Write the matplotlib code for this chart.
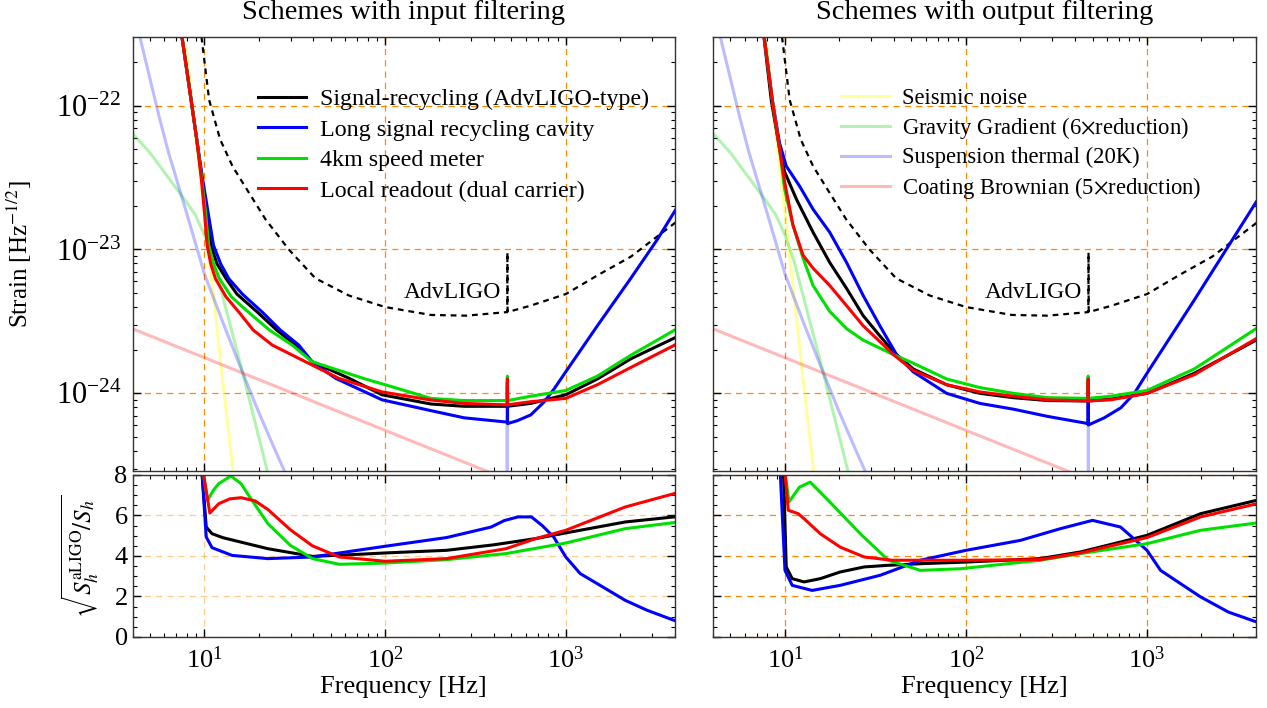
import numpy as np
import matplotlib
matplotlib.use("Agg")
import matplotlib.pyplot as plt
from matplotlib.ticker import LogLocator, MultipleLocator, FixedLocator

matplotlib.rcParams.update({
    'font.family': ['Liberation Serif', 'DejaVu Serif'],
    'mathtext.fontset': 'stix',
    'axes.linewidth': 1.0,
})

# ---- noise budget curves (log10 f, log10 strain), same in both panels
seis_logf = [0.90, 0.95, 1.00, 1.05, 1.10, 1.15, 1.18]
seis_logh = [-21.60, -22.20, -22.75, -23.32, -23.90, -24.45, -24.80]

gg_logf = [0.60, 0.70, 0.80, 0.90, 0.95, 1.00, 1.05, 1.10, 1.15, 1.20, 1.25, 1.30, 1.35, 1.40]
gg_logh = [-22.19, -22.33, -22.50, -22.67, -22.76, -22.90, -23.08, -23.32, -23.56, -23.80, -24.05, -24.30, -24.55, -24.80]

susp_logf = [0.60, 0.65, 0.70, 0.75, 0.80, 0.90, 1.00, 1.10, 1.20, 1.30, 1.40, 1.50, 2.00, 2.675, 2.676, 2.677, 3.00]
susp_logh = [-21.30, -21.56, -21.82, -22.08, -22.32, -22.74, -23.17, -23.50, -23.82, -24.13, -24.42, -24.70, -25.60, -26.50, -24.20, -26.50, -27.00]

coat_logf = [0.60, 2.60]
coat_logh = [-23.55, -24.56]

aligo_logf = [0.96, 0.984, 1.026, 1.087, 1.155, 1.209, 1.338, 1.467, 1.614, 1.80, 2.00, 2.253, 2.45,
              2.676, 2.677, 2.678, 2.806, 3.00, 3.175, 3.36, 3.61]
aligo_logh = [-21.30, -21.525, -21.96, -22.235, -22.42, -22.53, -22.79, -23.00, -23.20, -23.32, -23.40, -23.455, -23.46,
              -23.435, -23.02, -23.435, -23.39, -23.31, -23.18, -23.05, -22.81]

# ---- input filtering schemes (left)
sr_in_logf = [0.86, 0.876, 0.92, 0.958, 0.987, 1.013, 1.035, 1.07, 1.120, 1.18, 1.292, 1.40, 1.504, 1.596, 1.80, 1.983, 2.253, 2.437,
              2.676, 2.677, 2.678, 2.806, 3.00, 3.175, 3.36, 3.61]
sr_in_logh = [-21.40, -21.525, -21.90, -22.24, -22.51, -22.74, -22.97, -23.10, -23.203, -23.31, -23.434, -23.56, -23.664, -23.78, -23.895, -24.01, -24.074, -24.09,
              -24.09, -23.92, -24.09, -24.07, -24.01, -23.90, -23.76, -23.61]

lsrc_in_logf = [0.86, 0.876, 0.958, 0.99, 1.02, 1.05, 1.09, 1.135, 1.21, 1.319, 1.42, 1.522, 1.596, 1.725, 1.983, 2.253, 2.437,
                2.676, 2.677, 2.678, 2.732, 2.806, 2.88, 2.935, 3.00, 3.175, 3.36, 3.507, 3.61]
lsrc_in_logh = [-21.40, -21.525, -22.24, -22.51, -22.74, -22.97, -23.10, -23.203, -23.31, -23.434, -23.56, -23.664, -23.78, -23.895, -24.045, -24.12, -24.17,
                -24.20, -23.95, -24.21, -24.19, -24.15, -24.06, -23.97, -23.85, -23.53, -23.20, -22.93, -22.72]

sm_in_logf = [0.86, 0.876, 0.958, 0.985, 1.006, 1.024, 1.05, 1.083, 1.15, 1.242, 1.36, 1.485, 1.596, 1.89, 2.00, 2.253, 2.437,
              2.676, 2.677, 2.678, 2.806, 3.00, 3.175, 3.36, 3.61]
sm_in_logh = [-21.40, -21.525, -22.24, -22.51, -22.74, -22.97, -23.10, -23.203, -23.33, -23.434, -23.56, -23.664, -23.78, -23.90, -23.94, -24.035, -24.05,
              -24.05, -23.88, -24.05, -24.02, -23.98, -23.88, -23.735, -23.555]

lr_in_logf = [0.86, 0.876, 0.958, 0.983, 1.00, 1.015, 1.035, 1.061, 1.12, 1.190, 1.27, 1.375, 1.559, 1.743, 1.983, 2.253, 2.437,
              2.676, 2.677, 2.678, 2.806, 3.00, 3.175, 3.36, 3.61]
lr_in_logh = [-21.40, -21.525, -22.24, -22.51, -22.74, -22.97, -23.10, -23.203, -23.33, -23.434, -23.56, -23.664, -23.78, -23.895, -23.99, -24.046, -24.07,
              -24.08, -23.90, -24.08, -24.058, -24.035, -23.94, -23.82, -23.66]

# ---- output filtering schemes (right)
sr_out_logf = [0.87, 0.884, 0.924, 0.970, 0.998, 1.063, 1.155, 1.247, 1.340, 1.432, 1.524, 1.598, 1.708, 1.893, 2.077, 2.262, 2.45,
               2.674, 2.675, 2.676, 2.80, 3.00, 3.262, 3.603]
sr_out_logh = [-21.40, -21.525, -21.96, -22.30, -22.46, -22.65, -22.88, -23.09, -23.27, -23.46, -23.60, -23.71, -23.83, -23.94, -24.00, -24.03, -24.05,
               -24.053, -23.92, -24.053, -24.04, -24.00, -23.86, -23.63]

lsrc_out_logf = [0.87, 0.886, 0.93, 0.970, 1.007, 1.081, 1.155, 1.247, 1.340, 1.432, 1.524, 1.616, 1.708, 1.893, 2.077, 2.262, 2.45,
                 2.674, 2.675, 2.676, 2.764, 2.856, 2.93, 3.00, 3.262, 3.603]
lsrc_out_logh = [-21.40, -21.525, -21.96, -22.26, -22.42, -22.56, -22.72, -22.88, -23.09, -23.32, -23.53, -23.73, -23.85, -24.00, -24.07, -24.11, -24.16,
                 -24.21, -23.95, -24.22, -24.17, -24.10, -24.00, -23.86, -23.35, -22.67]

sm_out_logf = [0.87, 0.886, 0.93, 0.970, 0.998, 1.044, 1.100, 1.155, 1.247, 1.340, 1.432, 1.598, 1.708, 1.893, 2.077, 2.262, 2.45,
               2.674, 2.675, 2.676, 2.80, 3.00, 3.262, 3.603]
sm_out_logh = [-21.40, -21.525, -21.96, -22.30, -22.58, -22.83, -23.06, -23.25, -23.43, -23.55, -23.63, -23.73, -23.79, -23.90, -23.96, -24.00, -24.03,
               -24.035, -23.88, -24.035, -24.02, -23.98, -23.83, -23.55]

lr_out_logf = [0.87, 0.885, 0.93, 0.970, 0.998, 1.044, 1.100, 1.155, 1.247, 1.340, 1.432, 1.524, 1.598, 1.708, 1.893, 2.077, 2.262, 2.45,
               2.674, 2.675, 2.676, 2.80, 3.00, 3.262, 3.603]
lr_out_logh = [-21.40, -21.525, -21.96, -22.30, -22.53, -22.83, -23.04, -23.13, -23.25, -23.39, -23.53, -23.64, -23.73, -23.84, -23.94, -23.99, -24.02, -24.045,
               -24.053, -23.90, -24.053, -24.045, -24.00, -23.87, -23.62]

# ---- sensitivity improvement sqrt(S_aLIGO/S_h)
r_sr_in_logf = [0.985, 1.01, 1.042, 1.104, 1.351, 1.598, 1.846, 2.0, 2.34, 2.60, 2.834, 3.0, 3.329, 3.60]
r_sr_in = [8.3, 5.43, 5.10, 4.90, 4.36, 3.98, 4.08, 4.15, 4.28, 4.55, 4.86, 5.14, 5.68, 5.93]

r_lsrc_in_logf = [0.985, 1.01, 1.042, 1.153, 1.351, 1.598, 1.846, 2.0, 2.34, 2.587, 2.66, 2.735, 2.81, 2.87, 2.933, 3.0, 3.08, 3.205, 3.329, 3.45, 3.60]
r_lsrc_in = [8.3, 4.94, 4.41, 4.03, 3.87, 3.95, 4.28, 4.48, 4.91, 5.43, 5.75, 5.93, 5.93, 5.50, 4.94, 3.95, 3.13, 2.47, 1.81, 1.32, 0.82]

r_sm_in_logf = [0.99, 1.017, 1.05, 1.079, 1.146, 1.203, 1.252, 1.351, 1.475, 1.598, 1.747, 2.0, 2.34, 2.669, 3.0, 3.329, 3.60]
r_sm_in = [8.3, 6.75, 7.25, 7.57, 7.95, 7.57, 6.90, 5.60, 4.53, 3.87, 3.59, 3.65, 3.82, 4.12, 4.64, 5.35, 5.65]

r_lr_in_logf = [0.99, 1.03, 1.079, 1.14, 1.203, 1.28, 1.351, 1.475, 1.598, 1.747, 2.0, 2.34, 2.669, 2.834, 3.0, 3.329, 3.60]
r_lr_in = [8.3, 6.12, 6.58, 6.82, 6.88, 6.72, 6.30, 5.30, 4.50, 3.95, 3.74, 3.87, 4.36, 4.86, 5.27, 6.42, 7.08]

r_sr_out_logf = [0.991, 1.007, 1.04, 1.106, 1.195, 1.305, 1.438, 1.571, 1.748, 2.0, 2.41, 2.633, 2.854, 3.0, 3.296, 3.606]
r_sr_out = [8.3, 3.46, 2.88, 2.72, 2.88, 3.21, 3.46, 3.54, 3.62, 3.70, 3.87, 4.20, 4.69, 5.02, 6.09, 6.75]

r_lsrc_out_logf = [0.973, 1.0, 1.04, 1.15, 1.305, 1.527, 1.748, 2.0, 2.30, 2.522, 2.699, 2.854, 3.0, 3.075, 3.186, 3.296, 3.45, 3.606]
r_lsrc_out = [8.3, 3.29, 2.55, 2.30, 2.55, 3.05, 3.79, 4.28, 4.77, 5.35, 5.76, 5.43, 4.28, 3.29, 2.63, 1.98, 1.23, 0.74]

r_sm_out_logf = [0.998, 1.022, 1.08, 1.139, 1.239, 1.416, 1.571, 1.748, 1.969, 2.41, 2.633, 3.0, 3.296, 3.606]
r_sm_out = [8.3, 6.67, 7.40, 7.65, 6.75, 5.10, 3.79, 3.29, 3.37, 3.79, 4.12, 4.61, 5.27, 5.63]

r_lr_out_logf = [0.998, 1.018, 1.073, 1.106, 1.195, 1.305, 1.438, 1.593, 2.0, 2.41, 2.633, 3.0, 3.296, 3.606]
r_lr_out = [8.3, 6.26, 6.09, 5.84, 5.10, 4.44, 3.95, 3.79, 3.79, 3.82, 4.15, 4.91, 5.93, 6.58]

scheme_labels_in = ["Signal-recycling (AdvLIGO-type)", "Long signal recycling cavity",
                    "4km speed meter", "Local readout (dual carrier)"]
noise_labels = ["Seismic noise", r"Gravity Gradient (6$\times$reduction)",
                "Suspension thermal (20K)", r"Coating Brownian (5$\times$reduction)"]

GREEN = '#00e000'
scheme_colors = ['black', 'blue', GREEN, 'red']
noise_colors = [(1, 1, 0, 0.38), (0, 0.85, 0, 0.3), (0.25, 0.25, 1, 0.35), (1, 0.1, 0.1, 0.3)]
ORANGE = '#ff8c00'


def p(lf, lh):
    return 10**np.asarray(lf), 10**np.asarray(lh)


def style(ax, top, grid_alpha=1.0):
    ax.set_xscale('log')
    ax.set_xlim(4, 4000)
    ax.xaxis.set_major_locator(FixedLocator([10, 100, 1000]))
    ax.xaxis.set_minor_locator(LogLocator(base=10, subs=np.arange(2, 10), numticks=20))
    ax.tick_params(which='both', direction='in', top=True, right=True, labelsize=19)
    ax.tick_params(which='major', length=6, width=1)
    ax.tick_params(which='minor', length=3, width=0.8)
    ax.grid(True, which='major', color=ORANGE, ls=(0, (5, 4)), lw=0.9, alpha=grid_alpha)
    if top:
        ax.set_yscale('log')
        ax.set_ylim(10**-24.54, 10**-21.525)
        ax.yaxis.set_major_locator(FixedLocator([1e-24, 1e-23, 1e-22]))
        ax.yaxis.set_minor_locator(LogLocator(base=10, subs=np.arange(2, 10), numticks=20))
        ax.tick_params(axis='x', labelbottom=False)
        ax.tick_params(axis='y', labelsize=22, pad=8)
    else:
        ax.set_ylim(0, 8)
        ax.set_yticks([0, 2, 4, 6, 8])
        ax.yaxis.set_minor_locator(MultipleLocator(0.5))
        ax.tick_params(axis='x', pad=7)
        ax.set_xlabel("Frequency [Hz]", fontsize=19, labelpad=2)
    for s in ax.spines.values():
        s.set_color('#333333')


fig = plt.figure(figsize=(12.67, 7.08), dpi=100)
ax_tl = fig.add_axes([0.1046, 0.3347, 0.4278, 0.6126])
ax_bl = fig.add_axes([0.1046, 0.1003, 0.4278, 0.2288])
ax_tr = fig.add_axes([0.5627, 0.3347, 0.4286, 0.6126])
ax_br = fig.add_axes([0.5627, 0.1003, 0.4286, 0.2288])

noise_sets = [(seis_logf, seis_logh), (gg_logf, gg_logh), (susp_logf, susp_logh), (coat_logf, coat_logh)]
top_sets = {
    ax_tl: [(sr_in_logf, sr_in_logh), (lsrc_in_logf, lsrc_in_logh), (sm_in_logf, sm_in_logh), (lr_in_logf, lr_in_logh)],
    ax_tr: [(sr_out_logf, sr_out_logh), (lsrc_out_logf, lsrc_out_logh), (sm_out_logf, sm_out_logh), (lr_out_logf, lr_out_logh)],
}
bottom_sets = {
    ax_bl: [(r_sr_in_logf, r_sr_in), (r_lsrc_in_logf, r_lsrc_in), (r_sm_in_logf, r_sm_in), (r_lr_in_logf, r_lr_in)],
    ax_br: [(r_sr_out_logf, r_sr_out), (r_lsrc_out_logf, r_lsrc_out), (r_sm_out_logf, r_sm_out), (r_lr_out_logf, r_lr_out)],
}

for ax in (ax_tl, ax_tr):
    style(ax, True)
    noise_lines = []
    for (lf, lh), c in zip(noise_sets, noise_colors):
        x, y = p(lf, lh)
        ln, = ax.plot(x, y, color=c, lw=2.2)
        noise_lines.append(ln)
    x, y = p(aligo_logf, aligo_logh)
    ax.plot(x, y, color='black', lw=1.6, ls=(0, (2.6, 2.2)))
    ax.text(440, 10**-23.30, "AdvLIGO", ha='right', va='center', fontsize=17)
    scheme_lines = []
    for (lf, lh), c in zip(top_sets[ax], scheme_colors):
        x, y = p(lf, lh)
        ln, = ax.plot(x, y, color=c, lw=2.2)
        scheme_lines.append(ln)
    if ax is ax_tl:
        ax.legend(scheme_lines, scheme_labels_in, loc='upper left', bbox_to_anchor=(0.232, 0.882),
                  frameon=False, fontsize=17.3, handlelength=2.0, handletextpad=0.55,
                  labelspacing=0.36, borderpad=0, borderaxespad=0)
    else:
        ax.legend(noise_lines, noise_labels, loc='upper left', bbox_to_anchor=(0.235, 0.884),
                  frameon=False, fontsize=16.3, handlelength=2.2, handletextpad=0.5,
                  labelspacing=0.28, borderpad=0, borderaxespad=0)

for ax, ga in ((ax_bl, 0.45), (ax_br, 1.0)):
    style(ax, False, grid_alpha=ga)
    for (lf, r), c in zip(bottom_sets[ax], scheme_colors):
        ax.plot(10**np.asarray(lf), r, color=c, lw=2.2)

ax_tr.tick_params(axis='y', labelleft=False)
ax_br.tick_params(axis='y', labelleft=False)

ax_tl.set_title("Schemes with input filtering", fontsize=20.5, pad=13)
ax_tr.set_title("Schemes with output filtering", fontsize=20.5, pad=13)
ax_tl.set_ylabel(r"Strain [Hz$^{-1/2}$]", fontsize=18)
ax_tl.yaxis.set_label_coords(-0.182, 0.5)
ax_bl.set_ylabel(r"$\sqrt{S_h^{\rm aLIGO}/S_h}$", fontsize=18)
ax_bl.yaxis.set_label_coords(-0.06, 0.5)

fig.savefig("out.png", dpi=100)
